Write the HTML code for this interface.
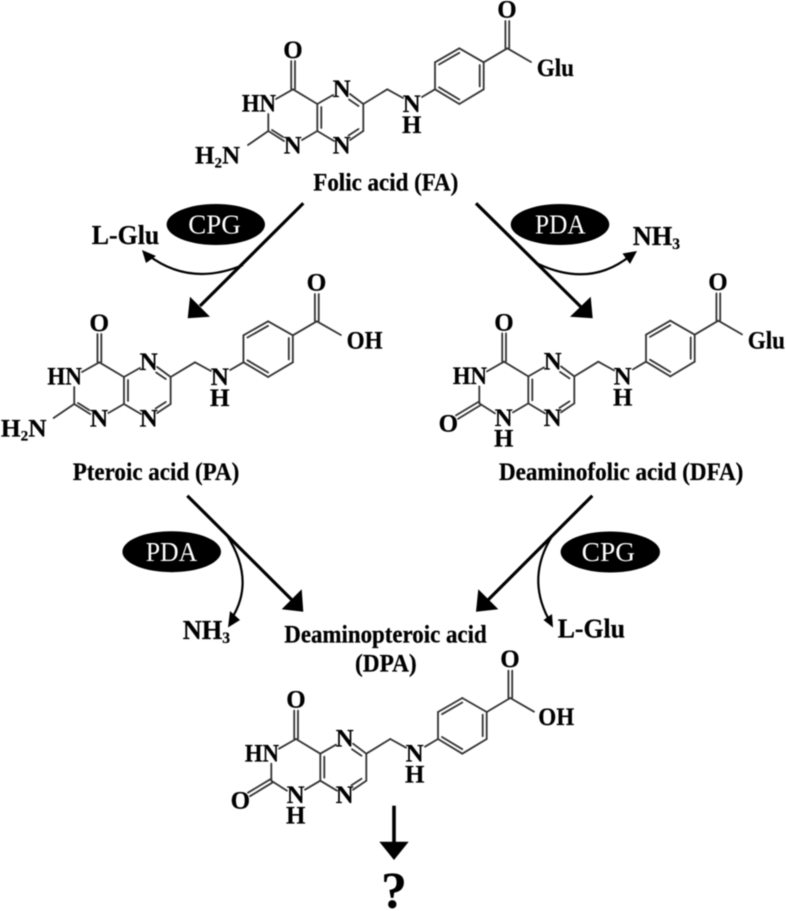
<!DOCTYPE html>
<html>
<head>
<meta charset="utf-8">
<style>
html,body{margin:0;padding:0;background:#fff;}
svg{display:block;filter:blur(0.45px);}
text{font-family:"Liberation Serif",serif;font-weight:bold;fill:#000;}
.a{font-size:25px;text-anchor:middle;stroke:#000;stroke-width:.2;}
.s{font-size:25px;stroke:#000;stroke-width:.2;}
.l{font-size:25px;stroke:#000;stroke-width:.25;}
.b{font-size:27px;stroke:#000;stroke-width:.25;}
.e{font-size:27px;font-weight:normal;fill:#fff;}
#core line,.x line{stroke:#333;stroke-width:1.8;stroke-linecap:round;}
.m{stroke:#000;stroke-width:3.2;fill:none;}
.c{stroke:#000;stroke-width:2.2;fill:none;}
</style>
</head>
<body>
<svg width="786" height="911" viewBox="0 0 786 911" xmlns="http://www.w3.org/2000/svg">
<defs>
<g id="core">
<line x1="291.2" y1="61" x2="291.2" y2="89"/><line x1="295" y1="61" x2="295" y2="89"/>
<line x1="293" y1="89.3" x2="276" y2="99"/>
<line x1="268.3" y1="114" x2="268.3" y2="131"/>
<line x1="293" y1="89.3" x2="317.3" y2="104"/>
<line x1="317.3" y1="104" x2="333" y2="95"/>
<line x1="350" y1="94" x2="363.3" y2="104"/><line x1="349" y1="99.5" x2="358.5" y2="106"/>
<line x1="363.3" y1="104" x2="363.3" y2="131"/>
<line x1="363.3" y1="131" x2="350" y2="140"/><line x1="358.5" y1="129" x2="348.5" y2="135.5"/>
<line x1="334" y1="141" x2="317.3" y2="131"/>
<line x1="317.3" y1="104" x2="317.3" y2="131"/><line x1="321.3" y1="107" x2="321.3" y2="128"/>
<line x1="317.3" y1="131" x2="302" y2="140"/>
<line x1="284" y1="141" x2="268.3" y2="131"/>
<line x1="363.3" y1="104" x2="387.3" y2="89.3"/>
<line x1="387.3" y1="89.3" x2="403" y2="98"/>
<line x1="422" y1="97" x2="435" y2="89.3"/>
<line x1="435" y1="89.3" x2="435" y2="62.3"/>
<line x1="435" y1="62.3" x2="459.3" y2="48.3"/><line x1="439" y1="64.5" x2="459.3" y2="52.8"/>
<line x1="459.3" y1="48.3" x2="483.7" y2="62.3"/>
<line x1="483.7" y1="62.3" x2="483.7" y2="89.3"/><line x1="479.7" y1="65" x2="479.7" y2="86.5"/>
<line x1="483.7" y1="89.3" x2="459.3" y2="104"/>
<line x1="459.3" y1="104" x2="435" y2="89.3"/><line x1="459.3" y1="99.5" x2="439" y2="87.3"/>
<line x1="483.7" y1="62.3" x2="507.3" y2="48.3"/>
<line x1="505.4" y1="21" x2="505.4" y2="48"/><line x1="509.2" y1="21" x2="509.2" y2="48"/>
<line x1="507.3" y1="48.3" x2="531" y2="62"/>
</g>
<g id="amine" class="x">
<line x1="268.3" y1="131" x2="248" y2="145"/>
<line x1="272" y1="130" x2="283" y2="137"/>
</g>
<g id="oxo" class="x">
<line x1="268.3" y1="129" x2="245" y2="143"/>
<line x1="270" y1="132.5" x2="247" y2="146.5"/>
</g>
</defs>

<!-- Folic acid -->
<g>
<use href="#core"/><use href="#amine"/>
<text class="a" x="293" y="58">O</text>
<text class="s" x="241.7" y="111.7" textLength="34.3" lengthAdjust="spacingAndGlyphs">HN</text>
<text class="a" x="341.7" y="97">N</text>
<text class="a" x="341.7" y="153.5">N</text>
<text class="a" x="292.7" y="153.5">N</text>
<text class="a" x="411.7" y="112">N</text>
<text class="a" x="411.7" y="133">H</text>
<text class="a" x="507" y="17.5">O</text>
<text class="s" x="536.7" y="76" textLength="37.3" lengthAdjust="spacingAndGlyphs">Glu</text>
<text class="s" x="195" y="163.3">H<tspan font-size="15" dy="4">2</tspan><tspan x="222" dy="-4">N</tspan></text>
</g>

<!-- Pteroic acid -->
<g transform="matrix(1.015,0,0,1,-198.1,273)">
<use href="#core"/><use href="#amine"/>
<text class="a" x="293" y="58">O</text>
<text class="s" x="241.7" y="111.7" textLength="34.3" lengthAdjust="spacingAndGlyphs">HN</text>
<text class="a" x="341.7" y="97">N</text>
<text class="a" x="341.7" y="153.5">N</text>
<text class="a" x="292.7" y="153.5">N</text>
<text class="a" x="411.7" y="112">N</text>
<text class="a" x="411.7" y="133">H</text>
<text class="a" x="507" y="17.5">O</text>
<text class="s" x="536.7" y="75.3" textLength="35.5" lengthAdjust="spacingAndGlyphs">OH</text>
<text class="s" x="196" y="163.3">H<tspan font-size="15" dy="4">2</tspan><tspan x="223" dy="-4">N</tspan></text>
</g>

<!-- Deaminofolic acid -->
<g transform="translate(211,272.4)">
<use href="#core"/><use href="#oxo"/>
<text class="a" x="293" y="58">O</text>
<text class="s" x="241.7" y="111.7" textLength="34.3" lengthAdjust="spacingAndGlyphs">HN</text>
<text class="a" x="341.7" y="97">N</text>
<text class="a" x="341.7" y="153.5">N</text>
<text class="a" x="292.7" y="153.5">N</text>
<text class="a" x="292.7" y="174">H</text>
<text class="a" x="237.3" y="159">O</text>
<text class="a" x="411.7" y="112">N</text>
<text class="a" x="411.7" y="133">H</text>
<text class="a" x="507" y="17.5">O</text>
<text class="s" x="536.7" y="76" textLength="37.3" lengthAdjust="spacingAndGlyphs">Glu</text>
</g>

<!-- Deaminopteroic acid -->
<g transform="translate(3,649.7)">
<use href="#core"/><use href="#oxo"/>
<text class="a" x="293" y="58">O</text>
<text class="s" x="241.7" y="111.7" textLength="34.3" lengthAdjust="spacingAndGlyphs">HN</text>
<text class="a" x="341.7" y="97">N</text>
<text class="a" x="341.7" y="153.5">N</text>
<text class="a" x="292.7" y="153.5">N</text>
<text class="a" x="292.7" y="174">H</text>
<text class="a" x="237.3" y="159">O</text>
<text class="a" x="411.7" y="112">N</text>
<text class="a" x="411.7" y="133">H</text>
<text class="a" x="507" y="17.5">O</text>
<text class="s" x="535.3" y="75.3" textLength="36" lengthAdjust="spacingAndGlyphs">OH</text>
</g>

<!-- Compound names -->
<text class="l" x="313.3" y="190.7" textLength="145" lengthAdjust="spacingAndGlyphs">Folic acid (FA)</text>
<text class="l" x="72.7" y="480" textLength="166.6" lengthAdjust="spacingAndGlyphs">Pteroic acid (PA)</text>
<text class="l" x="499" y="480" textLength="244.3" lengthAdjust="spacingAndGlyphs">Deaminofolic acid (DFA)</text>
<text class="l" x="284.3" y="642.3" textLength="202.4" lengthAdjust="spacingAndGlyphs">Deaminopteroic acid</text>
<text class="l" x="355" y="671.7" textLength="61.7" lengthAdjust="spacingAndGlyphs">(DPA)</text>

<!-- Main arrows -->
<line class="m" x1="303.3" y1="203.3" x2="200" y2="306"/>
<polygon points="187.7,318.3 190,296.7 210,316.7"/>
<line class="m" x1="476" y1="203.3" x2="581" y2="307"/>
<polygon points="592.7,318.3 570,316.7 590.7,296.7"/>
<line class="m" x1="187.3" y1="495.7" x2="292" y2="600"/>
<polygon points="303.3,611.7 281.7,609.3 301.7,589.3"/>
<line class="m" x1="592.3" y1="495.7" x2="488" y2="600"/>
<polygon points="476,611.7 498.3,609.3 478.3,589.3"/>
<line class="m" x1="394" y1="805.7" x2="394" y2="843" style="stroke-width:3.6"/>
<polygon points="379.3,841.7 408.7,841.7 394,860"/>

<!-- Side curves -->
<path class="c" d="M243,265 Q190,287 148,255"/>
<polygon points="142,250 146,263 156,256"/>
<path class="c" d="M538.3,264 Q590,288 630,256"/>
<polygon points="637,251 622.5,253.5 630,264"/>
<path class="c" d="M226.7,535 Q255.6,580 232,618"/>
<polygon points="228,627.5 230,611 240,620"/>
<path class="c" d="M551.7,536.7 Q526.8,577 548,618"/>
<polygon points="553,627.5 543.5,620 552,614"/>

<!-- Enzymes -->
<ellipse cx="215.8" cy="224.5" rx="49.2" ry="20.5"/>
<text class="e" x="188.3" y="233.3" textLength="52.4" lengthAdjust="spacingAndGlyphs">CPG</text>
<ellipse cx="560" cy="224.5" rx="49.3" ry="20.5"/>
<text class="e" x="535" y="233.3" textLength="50.7" lengthAdjust="spacingAndGlyphs">PDA</text>
<ellipse cx="171.7" cy="551.7" rx="49.3" ry="20.5"/>
<text class="e" x="145.7" y="561" textLength="51.6" lengthAdjust="spacingAndGlyphs">PDA</text>
<ellipse cx="610.3" cy="552" rx="49.7" ry="20.5"/>
<text class="e" x="581.7" y="561" textLength="53.3" lengthAdjust="spacingAndGlyphs">CPG</text>

<!-- By-products -->
<text class="b" x="91.7" y="244" textLength="67.6" lengthAdjust="spacingAndGlyphs">L-Glu</text>
<text class="b" x="632.7" y="245" textLength="47.3" lengthAdjust="spacingAndGlyphs">NH<tspan font-size="16" dy="4">3</tspan></text>
<text class="b" x="182.7" y="639" textLength="47.3" lengthAdjust="spacingAndGlyphs">NH<tspan font-size="16" dy="4">3</tspan></text>
<text class="b" x="557.7" y="637.7" textLength="67.3" lengthAdjust="spacingAndGlyphs">L-Glu</text>

<text x="394" y="908" font-size="52" text-anchor="middle">?</text>
</svg>
</body>
</html>
